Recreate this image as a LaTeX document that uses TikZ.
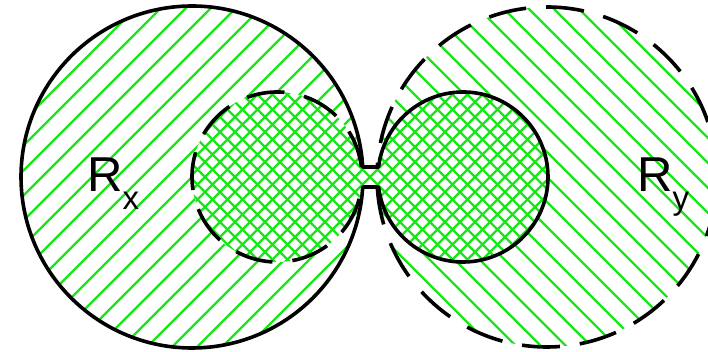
\documentclass[tikz,border=0pt]{standalone}
\usepackage{fontspec}
\setmainfont{Liberation Sans}
\usetikzlibrary{calc}
\definecolor{hatchgreen}{RGB}{25,230,25}
\tikzset{
  rim/.style    ={line width=3.6pt, line join=round},
  rimdash/.style={rim, dash pattern=on 38pt off 20pt},
  hatch/.style  ={hatchgreen, line width=2.4pt},
  setlbl/.style ={anchor=base west, inner sep=0pt, font=\fontsize{49}{49}\selectfont},
}
\newcommand{\setsub}[1]{\raisebox{-18pt}{\fontsize{33}{33}\selectfont #1}}

\begin{document}
\begin{tikzpicture}[x=1pt, y=1pt]
  \useasboundingbox (0,0) rectangle (708,352);
  \clip (0,0) rectangle (708,352);
  % --- centres: big solid + small dashed (left), small solid + big dashed (right)
  \coordinate (bl) at (192,175);
  \coordinate (sl) at (277,175);
  \coordinate (sr) at (463,175);
  \coordinate (br) at (547,175);

  % --- single hatching in the big sets
  \begin{scope}
    \clip (bl) circle[radius=171];
    \foreach \k in {-16,...,16}
      \draw[hatch] ($(bl)+(\k*25,0)$) ++(-200,-200) -- ++(400,400);
  \end{scope}
  \begin{scope}
    \clip (br) circle[radius=170];
    \foreach \k in {-16,...,16}
      \draw[hatch] ($(br)+(\k*25,0)$) ++(-200,200) -- ++(400,-400);
  \end{scope}

  % --- cross hatching in the small sets and the neck
  \fill[white] (sl) circle[radius=85] (sr) circle[radius=85];
  \fill[white] (361,165) rectangle (380,185);
  \begin{scope}
    \clip (sl) circle[radius=85] (sr) circle[radius=85] (361,165) -- (380,165) -- (380,185) -- (361,185) -- cycle;
    \foreach \k in {-24,...,24} {
      \draw[hatch] ($(370,175)+(\k*15,0)$) ++(-200,-200) -- ++(400,400);
      \draw[hatch] ($(370,175)+(\k*15,0)$) ++(-200,200) -- ++(400,-400);
    }
  \end{scope}

  % --- outlines, open at the neck
  \draw[rim] ($(bl)+(3.35:171)$) arc[start angle=3.35, end angle=356.65, radius=171]
    -- ($(sr)+(186.76:85)$) arc[start angle=186.76, end angle=533.24, radius=85] -- cycle;
  \draw[rimdash] ($(sl)+(6.76:85)$) arc[start angle=6.76, end angle=353.24, radius=85];
  \draw[rimdash] ($(br)+(183.37:170)$) arc[start angle=183.37, end angle=536.63, radius=170];

  \node[setlbl] (rx) at (87,160)  {R\setsub{x}};
  \node[setlbl] (ry) at (637,160) {R\setsub{y}};
\end{tikzpicture}
\end{document}
